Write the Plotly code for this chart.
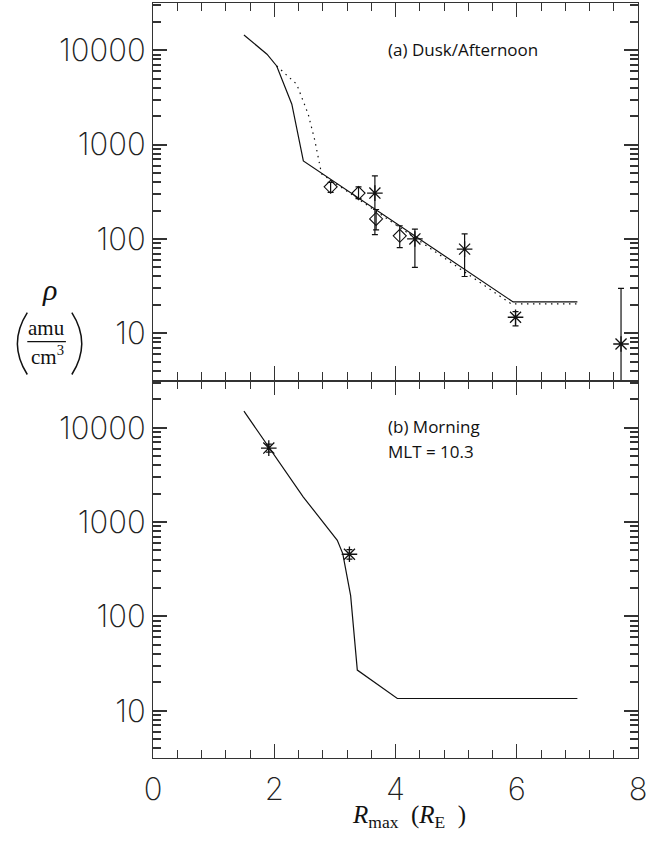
import plotly.graph_objects as go
from plotly.subplots import make_subplots

# ---------------- data ----------------
# Panel (a) Dusk/Afternoon
a_solid_x = [1.50, 1.88, 2.04, 2.29, 2.48, 5.94, 7.00]
a_solid_y = [14500, 9060, 6800, 2680, 670, 21.5, 21.5]
a_dot_x = [2.04, 2.07, 2.37, 2.56, 2.67, 2.78, 5.91, 7.00]
a_dot_y = [6800, 6540, 4360, 2100, 1100, 490, 20.5, 20.5]
a_diam_x = [2.93, 3.39, 3.68, 4.07]
a_diam_y = [357, 306, 163, 108]
a_diam_hi = [397, 357, 205, 138]
a_diam_lo = [311, 268, 125, 81]
a_star_x = [3.66, 4.32, 5.14, 5.98, 7.72]
a_star_y = [306, 100, 78, 14.8, 7.7]
a_star_hi = [465, 127, 113, 17, 30]
a_star_lo = [111, 50, 40, 12, 1]

# Panel (b) Morning, MLT = 10.3
b_solid_x = [1.50, 2.48, 3.04, 3.13, 3.26, 3.37, 4.03, 7.00]
b_solid_y = [14960, 1840, 641, 463, 166, 27, 13.5, 13.5]
b_star_x = [1.91, 3.24]
b_star_y = [6080, 456]
b_star_hi = [6700, 510]
b_star_lo = [5500, 405]

x_ticks = [0, 2, 4, 6, 8]
y_ticks = [10, 100, 1000, 10000]
y_ticktext = ["10", "100", "1000", "10000"]
y_minor = [m * 10 ** e for e in range(0, 5) for m in range(2, 10)]

# ---------------- figure ----------------
W, H = 649, 847
ML, MR, MT, MB = 153, 6, 2, 89

fig = make_subplots(rows=2, cols=1, shared_xaxes=False, vertical_spacing=0)

INK = "#111111"


def err(y, hi, lo):
    return dict(type="data", symmetric=False,
                array=[h - v for h, v in zip(hi, y)],
                arrayminus=[v - l for v, l in zip(y, lo)],
                color=INK, thickness=1.2, width=3)


fig.add_trace(go.Scatter(x=a_solid_x, y=a_solid_y, mode="lines",
                         line=dict(color=INK, width=1.2)), row=1, col=1)
fig.add_trace(go.Scatter(x=a_dot_x, y=a_dot_y, mode="lines",
                         line=dict(color=INK, width=1.2, dash="1.5px,4.5px")), row=1, col=1)
fig.add_trace(go.Scatter(x=a_diam_x, y=a_diam_y, mode="markers",
                         marker=dict(symbol="diamond-open", size=10, color=INK,
                                     line=dict(width=1.1, color=INK)),
                         error_y=err(a_diam_y, a_diam_hi, a_diam_lo)), row=1, col=1)
fig.add_trace(go.Scatter(x=a_star_x, y=a_star_y, mode="markers",
                         marker=dict(symbol="asterisk-open", size=13, color=INK,
                                     line=dict(width=1.3, color=INK)),
                         error_y=err(a_star_y, a_star_hi, a_star_lo)), row=1, col=1)
fig.add_trace(go.Scatter(x=b_solid_x, y=b_solid_y, mode="lines",
                         line=dict(color=INK, width=1.2)), row=2, col=1)
fig.add_trace(go.Scatter(x=b_star_x, y=b_star_y, mode="markers",
                         marker=dict(symbol="asterisk-open", size=13, color=INK,
                                     line=dict(width=1.3, color=INK)),
                         error_y=err(b_star_y, b_star_hi, b_star_lo)), row=2, col=1)

AX = "#333333"
tf = dict(family="Inter", size=31, weight=200, color="#222222")

xbase = dict(range=[0, 8], showline=True, linecolor=AX, linewidth=1.2,
             mirror="allticks", ticks="inside", ticklen=14, tickcolor=AX,
             tickvals=x_ticks, showgrid=False, zeroline=False,
             minor=dict(ticks="inside", ticklen=8, dtick=0.4, tick0=0))
ybase = dict(type="log", range=[0.5, 4.5], showline=True, linecolor=AX,
             linewidth=1.2, mirror="allticks", ticks="inside", ticklen=14,
             tickwidth=2, tickcolor=AX, tickvals=y_ticks, ticktext=y_ticktext,
             showgrid=False, zeroline=False, tickfont=tf,
             minor=dict(ticks="inside", ticklen=8, tickvals=y_minor))

fig.update_layout(
    xaxis=dict(xbase, showticklabels=False),
    xaxis2=dict(xbase, showticklabels=True, ticklabeloverflow="allow",
                tickfont=tf, ticklabelstandoff=4),
    yaxis=ybase,
    yaxis2=ybase,
)

PW = W - ML - MR
PH = H - MT - MB


def px(x):
    return (x - ML) / PW


def py(y):
    return (H - MB - y) / PH


shapes = [
    dict(type="line", xref="paper", yref="paper", x0=px(26), x1=px(65),
         y0=py(341), y1=py(341), line=dict(color=INK, width=1.3)),
    dict(type="path", xref="paper", yref="paper",
         path=f"M {px(26)},{py(312)} Q {px(6)},{py(343)} {px(26)},{py(374)}",
         line=dict(color=INK, width=1.5)),
    dict(type="path", xref="paper", yref="paper",
         path=f"M {px(71)},{py(312)} Q {px(91)},{py(343)} {px(71)},{py(374)}",
         line=dict(color=INK, width=1.5)),
]

serif = "Liberation Serif"
sans = "Open Sans"
NB = "\u00a0"
xtitle = ("<i>R</i><sub>max</sub>" + NB * 2 +
          "(<i>R</i><sub>E</sub>" + NB * 2 + ")")
annotations = [
    dict(text="<i>ρ</i>", x=px(48), y=py(289), xref="paper", yref="paper",
         showarrow=False, font=dict(family=serif, size=30, color=INK),
         xanchor="center", yanchor="middle"),
    dict(text="amu", x=px(45.5), y=py(327), xref="paper", yref="paper",
         showarrow=False, font=dict(family=serif, size=21, color=INK),
         xanchor="center", yanchor="middle"),
    dict(text="cm<sup>3</sup>", x=px(46), y=py(355), xref="paper", yref="paper",
         showarrow=False, font=dict(family=serif, size=21, color=INK),
         xanchor="center", yanchor="middle"),
    dict(text=xtitle, x=px(352), y=py(817),
         xref="paper", yref="paper", showarrow=False,
         font=dict(family=serif, size=25, color=INK),
         xanchor="left", yanchor="middle"),
    dict(text="(a) Dusk/Afternoon", x=px(388), y=py(49), xref="paper", yref="paper",
         showarrow=False, font=dict(family=sans, size=17, color=INK),
         xanchor="left", yanchor="middle"),
    dict(text="(b) Morning", x=px(388), y=py(426), xref="paper", yref="paper",
         showarrow=False, font=dict(family=sans, size=17, color=INK),
         xanchor="left", yanchor="middle"),
    dict(text="MLT = 10.3", x=px(388), y=py(451), xref="paper", yref="paper",
         showarrow=False, font=dict(family=sans, size=17, color=INK),
         xanchor="left", yanchor="middle"),
]

fig.update_layout(width=W, height=H, margin=dict(l=ML, r=MR, t=MT, b=MB),
                  paper_bgcolor="white", plot_bgcolor="white", showlegend=False,
                  shapes=shapes, annotations=annotations)

fig.write_html("out.html")
